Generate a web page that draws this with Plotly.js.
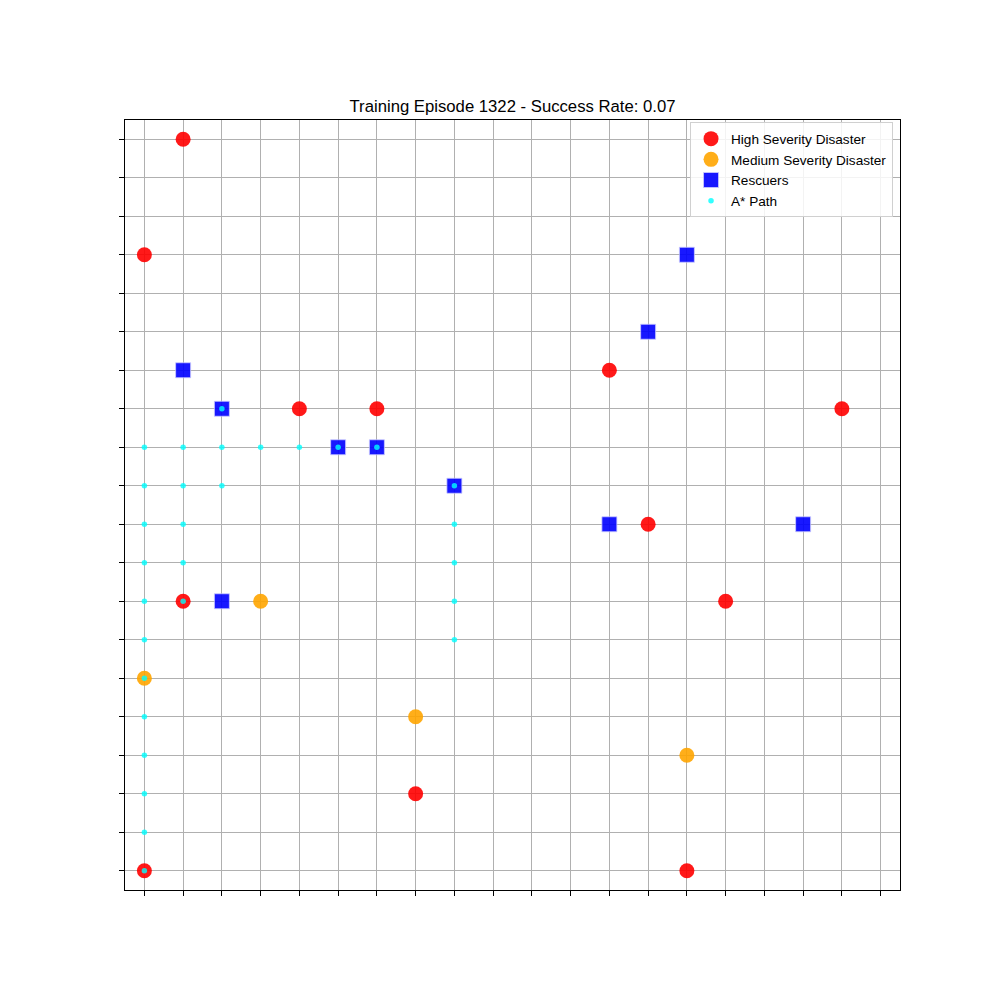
<!DOCTYPE html>
<html>
<head>
<meta charset="utf-8">
<script src="https://cdn.plot.ly/plotly-3.0.1.min.js"></script>
<style>html,body{margin:0;padding:0;background:#fff;}#chart{width:1000px;height:1000px;}</style>
</head>
<body>
<div id="chart"></div>
<script>
// Grid coordinates (column, row); row 0 is at the top.
var highX = [1, 0, 12, 4, 6, 18, 13, 1, 15, 7, 0, 14];
var highY = [0, 3, 6, 7, 7, 7, 10, 12, 12, 17, 19, 19];

var mediumX = [3, 0, 7, 14];
var mediumY = [12, 14, 15, 16];

var rescuerX = [14, 13, 1, 2, 5, 6, 8, 12, 17, 2];
var rescuerY = [3, 5, 6, 7, 8, 8, 9, 10, 10, 12];

var pathX = [2, 0, 1, 2, 3, 4, 5, 6, 0, 1, 2, 8, 0, 1, 8, 0, 1, 8, 0, 1, 8, 0, 8, 0, 0, 0, 0, 0, 0];
var pathY = [7, 8, 8, 8, 8, 8, 8, 8, 9, 9, 9, 9, 10, 10, 10, 11, 11, 11, 12, 12, 12, 13, 13, 14, 15, 16, 17, 18, 19];

var tickVals = [];
for (var i = 0; i < 20; i++) tickVals.push(i);

var traces = [
  {x: highX, y: highY, mode: 'markers', type: 'scatter', name: 'High Severity Disaster',
   marker: {color: 'red', size: 15, symbol: 'circle', opacity: 0.9, line: {width: 0}}},
  {x: mediumX, y: mediumY, mode: 'markers', type: 'scatter', name: 'Medium Severity Disaster',
   marker: {color: 'orange', size: 15, symbol: 'circle', opacity: 0.9, line: {width: 0}}},
  {x: rescuerX, y: rescuerY, mode: 'markers', type: 'scatter', name: 'Rescuers',
   marker: {color: 'blue', size: 15, symbol: 'square', opacity: 0.9, line: {width: 1, color: 'rgba(200,200,255,0.8)'}}},
  {x: pathX, y: pathY, mode: 'markers', type: 'scatter', name: 'A* Path',
   marker: {color: 'cyan', size: 5.5, symbol: 'circle', opacity: 0.8, line: {width: 0}}}
];

var axisCommon = {
  tickmode: 'array', tickvals: tickVals, showticklabels: false,
  ticks: 'outside', ticklen: 5, tickwidth: 1, tickcolor: '#000',
  showgrid: true, gridcolor: '#b0b0b0', gridwidth: 1,
  zeroline: false, showline: true, linecolor: '#000', linewidth: 1, mirror: true
};

var layout = {
  width: 1000, height: 1000,
  margin: {l: 125, r: 100, t: 120, b: 110},
  paper_bgcolor: '#fff', plot_bgcolor: '#fff',
  font: {family: 'Liberation Sans, Arial, sans-serif', color: '#000', size: 14},
  title: {text: 'Training Episode 1322 - Success Rate: 0.07', font: {size: 16.7, color: '#000'},
          x: 0.5125, xanchor: 'center', y: 0.894, yanchor: 'middle'},
  xaxis: Object.assign({range: [-0.5, 19.5]}, axisCommon),
  yaxis: Object.assign({range: [19.5, -0.5]}, axisCommon),
  showlegend: true,
  legend: {x: 0.991, xanchor: 'right', y: 0.997, yanchor: 'top',
           bgcolor: 'rgba(255,255,255,0.85)', bordercolor: '#d0d0d0', borderwidth: 1,
           font: {size: 13.6, color: '#000'}, itemsizing: 'trace', tracegroupgap: 0}
};

Plotly.newPlot('chart', traces, layout, {displayModeBar: false, staticPlot: true});
</script>
</body>
</html>
